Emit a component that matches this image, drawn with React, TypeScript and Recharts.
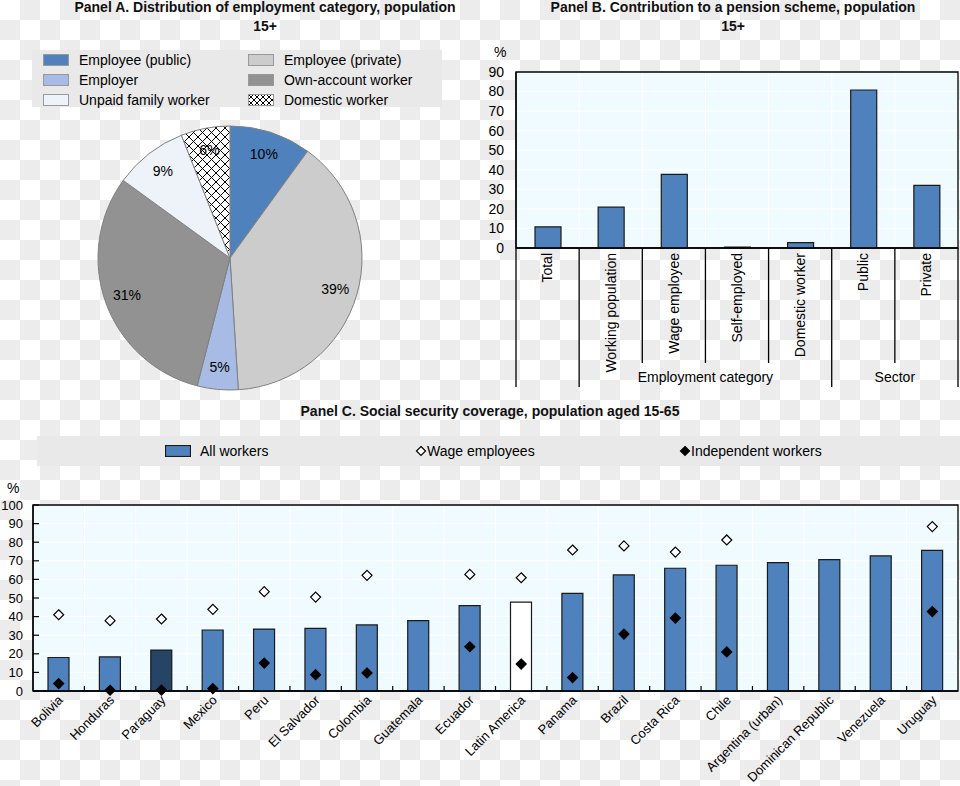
import React from "react";
import {
  PieChart,
  Pie,
  Cell,
  BarChart,
  Bar,
  XAxis,
  YAxis,
  CartesianGrid,
  ReferenceArea,
  ComposedChart,
  Scatter,
} from "recharts";

const FONT = "'Liberation Sans Narrow', 'Arial Narrow', 'Liberation Sans', Arial, sans-serif";

// Panel A
const empCategories = [
  "Employee (public)",
  "Employee (private)",
  "Employer",
  "Own-account worker",
  "Unpaid family worker",
  "Domestic worker",
];
const empShares = [10, 39, 5, 31, 9, 6];

// Panel B
const pensionCategories = [
  "Total",
  "Working population",
  "Wage employee",
  "Self-employed",
  "Domestic worker",
  "Public",
  "Private",
];
const pensionValues = [10.8, 20.9, 37.7, 0.5, 2.7, 80.8, 32];
const pensionGroups = [
  { label: "", from: 0, to: 0 },
  { label: "Employment category", from: 1, to: 4 },
  { label: "Sector", from: 5, to: 6 },
];
const pensionTicks = [0, 10, 20, 30, 40, 50, 60, 70, 80, 90];

// Panel C
const countries = [
  "Bolivia",
  "Honduras",
  "Paraguay",
  "Mexico",
  "Peru",
  "El Salvador",
  "Colombia",
  "Guatemala",
  "Ecuador",
  "Latin America",
  "Panama",
  "Brazil",
  "Costa Rica",
  "Chile",
  "Argentina (urban)",
  "Dominican Republic",
  "Venezuela",
  "Uruguay",
];
const allWorkers = [18, 18.3, 22, 32.8, 33.3, 33.7, 35.5, 37.8, 45.9, 47.8, 52.5, 62.4, 66, 67.6, 69, 70.6, 72.6, 75.6];
const wageEmployees = [41, 37.8, 38.7, 43.9, 53.4, 50.5, 62.2, null, 62.7, 60.9, 75.8, 78, 74.7, 81.2, null, null, null, 88.4];
const independentWorkers = [4, 0.4, 0.5, 1.3, 15, 8.8, 9.7, null, 23.8, 14.5, 7.2, 30.6, 39.2, 21, null, null, null, 42.7];
const coverageTicks = [0, 10, 20, 30, 40, 50, 60, 70, 80, 90, 100];

// styles
const pieColors = ["#4f81bd", "#cccccc", "#a7bbe5", "#929292", "#eef2f9", "url(#xhatch)"];
const BLUE = "#4f81bd";
const PLOT_BG = "#f0fbff";
const countryColor = (c: string) => (c === "Paraguay" ? "#264466" : c === "Latin America" ? "#ffffff" : BLUE);

const pieData = empCategories.map((name, i) => ({ name, value: empShares[i] }));
const pensionData = pensionCategories.map((name, i) => ({ name, value: pensionValues[i] }));
const coverageData = countries.map((name, i) => ({
  name,
  all: allWorkers[i],
  wage: wageEmployees[i],
  indep: independentWorkers[i],
}));

const B_W = 480, B_H = 360;
const B_MARGIN = { top: 32, right: 2, left: 6, bottom: 0 };
const B_YW = 30;
const B_BW = (B_W - B_MARGIN.left - B_MARGIN.right - B_YW) / pensionCategories.length;

const C_W = 960, C_H = 306;
const C_MARGIN = { top: 25, right: 2, left: 3, bottom: 0 };
const C_YW = 30;
const C_BW = (C_W - C_MARGIN.left - C_MARGIN.right - C_YW) / countries.length;

const renderPieLabel = (p: any) => {
  const RAD = Math.PI / 180;
  const r = p.outerRadius * 0.83;
  const x = p.cx + r * Math.cos(-p.midAngle * RAD);
  const y = p.cy + r * Math.sin(-p.midAngle * RAD);
  return (
    <text x={x} y={y} textAnchor='middle' dominantBaseline='central' fontSize={14} fill='#000' fontFamily={FONT}>
      {`${p.value}%`}
    </text>
  );
};

const PensionTick = (props: any) => {
  const { x, y, payload } = props;
  const index = props.index ?? payload.index;
  const left = x - B_BW / 2;
  const grp = pensionGroups.find((g) => g.from === index);
  const last = index === pensionCategories.length - 1;
  return (
    <g>
      <line x1={left} y1={y} x2={left} y2={y + (grp ? 139 : 115)} stroke='#000' strokeWidth={1.3} />
      {last && <line x1={x + B_BW / 2} y1={y} x2={x + B_BW / 2} y2={y + 139} stroke='#000' strokeWidth={1.3} />}
      <text
        transform={`translate(${x},${y + 5}) rotate(-90)`}
        textAnchor='end'
        dy='0.35em'
        fontSize={14}
        fill='#000'
        fontFamily={FONT}>
        {payload.value}
      </text>
      {grp && grp.label && (
        <text
          x={left + ((grp.to - grp.from + 1) * B_BW) / 2}
          y={y + 134}
          textAnchor='middle'
          fontSize={14}
          fill='#000'
          fontFamily={FONT}>
          {grp.label}
        </text>
      )}
    </g>
  );
};

const CountryTick = (props: any) => {
  const { x, y, payload } = props;
  const index = props.index ?? payload.index;
  const left = x - C_BW / 2;
  return (
    <g>
      {index > 0 && <line x1={left} y1={y} x2={left} y2={y - 5} stroke='#000' strokeWidth={1.2} />}
      <text
        transform={`translate(${x + 5},${y + 10}) rotate(-45)`}
        textAnchor='end'
        fontSize={13}
        fill='#000'
        fontFamily={FONT}>
        {payload.value}
      </text>
    </g>
  );
};

const makeValueTick = (margin: number, inner: boolean, size: number) => (props: any) => {
  const { x, y, payload } = props;
  const axisX = x + margin;
  return (
    <g>
      {inner && <line x1={axisX} y1={y} x2={axisX + 6} y2={y} stroke='#000' strokeWidth={1.2} />}
      <text x={x} y={y} dy='0.35em' textAnchor='end' fontSize={size} fill='#000' fontFamily={FONT}>
        {payload.value}
      </text>
    </g>
  );
};

const diamond = (key: "wage" | "indep") => (p: any) => {
  const v = p.payload ? p.payload[key] : null;
  if (v == null || p.cy == null || isNaN(p.cy)) return <g />;
  const s = 5;
  const { cx, cy } = p;
  return (
    <path
      d={`M${cx},${cy - s}L${cx + s},${cy}L${cx},${cy + s}L${cx - s},${cy}Z`}
      fill={key === "indep" ? "#000" : "#fff"}
      stroke='#000'
      strokeWidth={1.2}
    />
  );
};

const boundaries = (n: number) => (args: any) => {
  const { offset } = args;
  const bw = offset.width / n;
  const out: number[] = [];
  for (let i = 1; i < n; i++) out.push(offset.left + i * bw);
  return out;
};

const title: React.CSSProperties = {
  position: "absolute",
  fontFamily: FONT,
  fontWeight: "bold",
  fontSize: 14,
  lineHeight: "19px",
  textAlign: "center",
  color: "#111",
};
const text14: React.CSSProperties = { fontFamily: FONT, fontSize: 14, color: "#000", position: "absolute", lineHeight: "16px" };

export default function App(): JSX.Element {
  return (
    <div
      style={{
        position: "absolute",
        left: 0,
        top: 0,
        width: 960,
        height: 786,
        overflow: "hidden",
        backgroundColor: "#fff",
        backgroundImage: "repeating-conic-gradient(#ececec 0% 25%, #ffffff 0% 50%)",
        backgroundSize: "40px 40px",
        fontFamily: FONT,
      }}>
      {/* Panel A */}
      <div style={{ ...title, left: 60, top: -2, width: 410 }}>
        Panel A. Distribution of employment category, population
        <br />
        15+
      </div>
      <div style={{ position: "absolute", left: 32, top: 50, width: 410, height: 57, background: "#e9e9e9" }}>
        {empCategories.map((name, i) => {
          const col = i % 2, row = Math.floor(i / 2);
          return (
            <div key={name} style={{ position: "absolute", left: 11 + col * 205, top: 1 + row * 20, height: 18 }}>
              <svg width={26} height={12} style={{ position: "absolute", left: 0, top: 3 }}>
                <defs>
                  <pattern id={`lx${i}`} width='6' height='6' patternUnits='userSpaceOnUse'>
                    <rect width='6' height='6' fill='#fff' />
                    <path d='M0,0L6,6M6,0L0,6' stroke='#000' strokeWidth='1' />
                  </pattern>
                </defs>
                <rect
                  x={0.5}
                  y={0.5}
                  width={25}
                  height={11}
                  fill={i === 5 ? `url(#lx${i})` : pieColors[i]}
                  stroke='#999'
                  strokeWidth={1}
                />
              </svg>
              <span style={{ ...text14, left: 36, top: 1, whiteSpace: "nowrap" }}>{name}</span>
            </div>
          );
        })}
      </div>
      <div style={{ position: "absolute", left: 0, top: 110 }}>
        <PieChart width={460} height={300} margin={{ top: 0, right: 0, bottom: 0, left: 0 }}>
          <defs>
            <pattern id='xhatch' width='9' height='9' patternUnits='userSpaceOnUse'>
              <rect width='9' height='9' fill='#fff' />
              <path d='M0,0L9,9M9,0L0,9' stroke='#000' strokeWidth='1' />
            </pattern>
          </defs>
          <Pie
            data={pieData}
            dataKey='value'
            cx={230}
            cy={148}
            outerRadius={132}
            startAngle={90}
            endAngle={-270}
            stroke='#808080'
            strokeWidth={1}
            label={renderPieLabel}
            labelLine={false}
            isAnimationActive={false}>
            {pieData.map((d, i) => (
              <Cell key={d.name} fill={pieColors[i]} />
            ))}
          </Pie>
        </PieChart>
      </div>

      {/* Panel B */}
      <div style={{ ...title, left: 528, top: -2, width: 410 }}>
        Panel B. Contribution to a pension scheme, population
        <br />
        15+
      </div>
      <div style={{ ...text14, left: 494, top: 44 }}>%</div>
      <div style={{ position: "absolute", left: 480, top: 40 }}>
        <BarChart width={B_W} height={B_H} data={pensionData} margin={B_MARGIN}>
          <CartesianGrid
            fill={PLOT_BG}
            stroke='#ffffff'
            strokeWidth={1}
            verticalCoordinatesGenerator={boundaries(pensionCategories.length)}
          />
          <XAxis
            dataKey='name'
            interval={0}
            height={152}
            tickLine={false}
            tickSize={0}
            tickMargin={0}
            axisLine={{ stroke: "#000", strokeWidth: 1.3 }}
            tick={<PensionTick />}
          />
          <YAxis
            domain={[0, 90]}
            ticks={pensionTicks}
            interval={0}
            width={B_YW}
            tickLine={false}
            tickSize={0}
            tickMargin={12}
            axisLine={{ stroke: "#000", strokeWidth: 1.3 }}
            tick={makeValueTick(12, false, 14)}
          />
          <Bar dataKey='value' fill={BLUE} stroke='#1a1a1a' strokeWidth={1.2} barSize={26} isAnimationActive={false} />
          <ReferenceArea y1={0} y2={90} fill='none' stroke='#000' strokeWidth={1.3} />
        </BarChart>
      </div>

      {/* Panel C */}
      <div style={{ ...title, left: 200, top: 402, width: 580 }}>Panel C. Social security coverage, population aged 15-65</div>
      <div style={{ position: "absolute", left: 37, top: 436, width: 923, height: 30, background: "#e9e9e9" }}>
        <svg width={26} height={12} style={{ position: "absolute", left: 128, top: 9 }}>
          <rect x={0.5} y={0.5} width={25} height={11} fill={BLUE} stroke='#1a1a1a' strokeWidth={1.2} />
        </svg>
        <span style={{ ...text14, left: 163, top: 7 }}>All workers</span>
        <svg width={12} height={12} style={{ position: "absolute", left: 378, top: 9 }}>
          <path d='M6,1.5L10.5,6L6,10.5L1.5,6Z' fill='#fff' stroke='#000' strokeWidth={1.2} />
        </svg>
        <span style={{ ...text14, left: 390, top: 7 }}>Wage employees</span>
        <svg width={12} height={12} style={{ position: "absolute", left: 642, top: 9 }}>
          <path d='M6,1.5L10.5,6L6,10.5L1.5,6Z' fill='#000' stroke='#000' strokeWidth={1.2} />
        </svg>
        <span style={{ ...text14, left: 654, top: 7 }}>Independent workers</span>
      </div>
      <div style={{ ...text14, left: 7, top: 480 }}>%</div>
      <div style={{ position: "absolute", left: 0, top: 480 }}>
        <ComposedChart width={C_W} height={C_H} data={coverageData} margin={C_MARGIN}>
          <CartesianGrid
            fill={PLOT_BG}
            stroke='#ffffff'
            strokeWidth={1}
            verticalCoordinatesGenerator={boundaries(countries.length)}
          />
          <XAxis
            dataKey='name'
            interval={0}
            height={95}
            tickLine={false}
            tickSize={0}
            tickMargin={0}
            axisLine={{ stroke: "#000", strokeWidth: 1.3 }}
            tick={<CountryTick />}
          />
          <YAxis
            domain={[0, 100]}
            ticks={coverageTicks}
            interval={0}
            width={C_YW}
            tickLine={false}
            tickSize={0}
            tickMargin={10}
            axisLine={{ stroke: "#000", strokeWidth: 1.3 }}
            tick={makeValueTick(10, true, 13)}
          />
          <Bar dataKey='all' barSize={21} stroke='#1a1a1a' strokeWidth={1.2} isAnimationActive={false}>
            {coverageData.map((d) => (
              <Cell key={d.name} fill={countryColor(d.name)} />
            ))}
          </Bar>
          <Scatter dataKey='wage' shape={diamond("wage")} isAnimationActive={false} />
          <Scatter dataKey='indep' shape={diamond("indep")} isAnimationActive={false} />
          <ReferenceArea y1={0} y2={100} fill='none' stroke='#000' strokeWidth={1.3} />
        </ComposedChart>
      </div>
    </div>
  );
}
